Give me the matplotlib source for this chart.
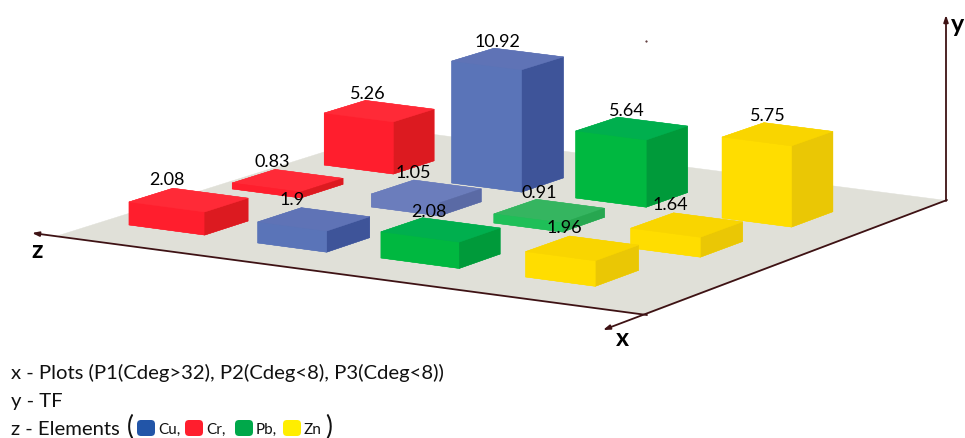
import numpy as np
import matplotlib
matplotlib.use("Agg")
import matplotlib.pyplot as plt
from matplotlib.patches import FancyBboxPatch
from matplotlib.lines import Line2D
from matplotlib.transforms import IdentityTransform
from mpl_toolkits.mplot3d import proj3d
from mpl_toolkits.mplot3d.art3d import Poly3DCollection

plt.rcParams['font.family'] = ['Lato', 'DejaVu Sans']

W, H = 965, 439

# ---- data ----
elements = ['Cr', 'Cu', 'Pb', 'Zn']
plots = ['P1', 'P2', 'P3']
# printed TF values (rows: plots, columns: elements)
tf_values = [[2.08, 1.9, 2.08, 1.96],
             [0.83, 1.05, 0.91, 1.64],
             [5.26, 10.92, 5.64, 5.75]]
# the reference draws its bars not quite to scale: heights, in TF units
drawn_heights = [[2.02, 1.84, 2.28, 2.2],
                 [0.54, 1.17, 0.81, 1.75],
                 [4.76, 11.1, 6.08, 7.3]]

# ---- floor layout (unit square floor) ----
bar_u = [[.048, .275, .482, .728],
         [.035, .281, .496, .759],
         [.056, .291, .508, .770]]
bar_v = [[.121, .116, .125, .127],
         [.440, .442, .443, .398],
         [.682, .673, .681, .675]]
bar_w = [[.132, .119, .134, .118],
         [.122, .120, .120, .120],
         [.125, .125, .125, .122]]
bar_d = [[.125, .127, .124, .135],
         [.128, .130, .134, .138],
         [.128, .135, .137, .141]]
label_shift = [[-6, -9, 6, -5],
               [-3, -1, 3, -3],
               [3, 3, 9, 4]]

face_colors = {
    'Cr': [('#FF1E2D', '#FF2A37', '#DC1A20')] * 3,
    'Cu': [('#5A74B8', '#5F73B6', '#3E5499'),
           ('#6B7DBC', '#6B7DBC', '#5A6AA5'),
           ('#5A74B8', '#5F73B6', '#3E5499')],
    'Pb': [('#00B840', '#00AF4E', '#009A3A'),
           ('#1FBF58', '#35B560', '#27A750'),
           ('#00B840', '#00AF4E', '#009A3A')],
    'Zn': [('#FFDD00', '#F9D500', '#EAC705')] * 3,
}
FLOOR = '#E0E0D8'
AXIS = '#3E1214'

fig = plt.figure(figsize=(W / 100, H / 100), dpi=100)
ax = fig.add_axes([0, 0, 1, 1], projection='3d', computed_zorder=False)
ax.apply_aspect = lambda position=None: None
ax.set_position([0, 0, 1, 1])
ax.set_axis_off()
ax.patch.set_alpha(0)

# projective camera: floor (u, v, height) -> image pixels
CAM = np.array([[574.3, 368.08, 0, 58.0],
                [72.33, -95.77, -11.5, 236.0],
                [-1.0, 1.0, -0.1, 0.0],
                [-0.02117, 0.07868, 0, 1.0]])


def get_proj():
    inv = ax.transData.inverted()
    p0 = inv.transform((0, H))       # image (0, 0)
    p1 = inv.transform((W, 0))       # image (W, H)
    sx = (p1[0] - p0[0]) / W
    sy = (p1[1] - p0[1]) / H
    M = CAM.copy()
    M[0] = sx * CAM[0] + p0[0] * CAM[3]
    M[1] = sy * CAM[1] + p0[1] * CAM[3]
    return M


ax.get_proj = get_proj

# floor and its back edges
floor_x = [0, 1, 1, 0]
floor_y = [0, 0, 1, 1]
ax.add_collection3d(Poly3DCollection([list(zip(floor_x, floor_y, [0] * 4))],
                                     facecolors=FLOOR, edgecolors=FLOOR, linewidths=0.3, zorder=1))
ax.plot([0, 0, 1], [0, 1, 1], [0, 0, 0], color=AXIS, lw=0.6, zorder=2)

# bars: back row first
z = 5
for r in range(len(plots) - 1, -1, -1):
    for c, el in enumerate(elements):
        front, top, side = face_colors[el][r]
        # faces: -Z, +Z, -Y, +Y, -X, +X
        cols = [front, top, front, top, front, side]
        ax.bar3d(bar_u[r][c], bar_v[r][c], 0, bar_w[r][c], bar_d[r][c], drawn_heights[r][c],
                 color=cols, edgecolor=cols, linewidth=0.3, shade=False, zorder=z)
        z += 1

# value labels above the back corner of each top face, placed through the camera
M_now = get_proj()
for r in range(len(plots)):
    for c in range(len(elements)):
        lx, ly, _ = proj3d.proj_transform(bar_u[r][c] + label_shift[r][c] / 580,
                                          bar_v[r][c] + bar_d[r][c], drawn_heights[r][c], M_now)
        ax.annotate(str(tf_values[r][c]), xy=(lx, ly), xycoords='data', ha='center', va='bottom',
                    fontsize=13, color='black', zorder=40, annotation_clip=False)


def axis_arrow(x0, y0, x1, y1):
    ax.annotate('', xy=(x1, H - y1), xytext=(x0, H - y0),
                xycoords='figure pixels', textcoords='figure pixels', annotation_clip=False, zorder=30,
                arrowprops=dict(arrowstyle='-|>,head_length=0.5,head_width=0.17', mutation_scale=8,
                                color=AXIS, lw=1.3, shrinkA=0, shrinkB=0))


axis_arrow(647, 316, 32, 234)
axis_arrow(947, 201, 603, 331)
axis_arrow(946, 202, 946, 16)


def ftext(x, y, s, **kw):
    return fig.text(x / W, 1 - y / H, s, **kw)


for s, x, y in [('z', 37, 251), ('x', 622, 339), ('y', 958, 25)]:
    ftext(x, y, s, fontsize=18, fontweight='bold', ha='center', va='center', color='black')

fig.add_artist(Line2D([646], [H - 42], marker='.', ms=1, color=AXIS, transform=IdentityTransform()))

# description block
ftext(11, 379, 'x - Plots (P1(Cdeg>32), P2(Cdeg<8), P3(Cdeg<8))', fontsize=14.6, va='baseline', color='#111111')
ftext(11, 407, 'y - TF', fontsize=14.6, va='baseline', color='#111111')
ftext(11, 435, 'z - Elements', fontsize=14.6, va='baseline', color='#111111')
ftext(127, 435, '(', fontsize=19, va='baseline', color='#111111')
ftext(325, 435, ')', fontsize=19, va='baseline', color='#111111')

legend_items = [('Cu,', '#2255A8', 137), ('Cr,', '#FF1E2D', 185), ('Pb,', '#00A84A', 235), ('Zn', '#FFEE00', 283)]
for name, col, x in legend_items:
    fig.add_artist(FancyBboxPatch((x + 4, H - 437 + 4), 10, 8, boxstyle='round,pad=4,rounding_size=4',
                                  facecolor=col, edgecolor='none', transform=IdentityTransform()))
    ftext(x + 21, 434, name, fontsize=11, va='baseline', color='#111111')

fig.savefig('out.png', dpi=100)
